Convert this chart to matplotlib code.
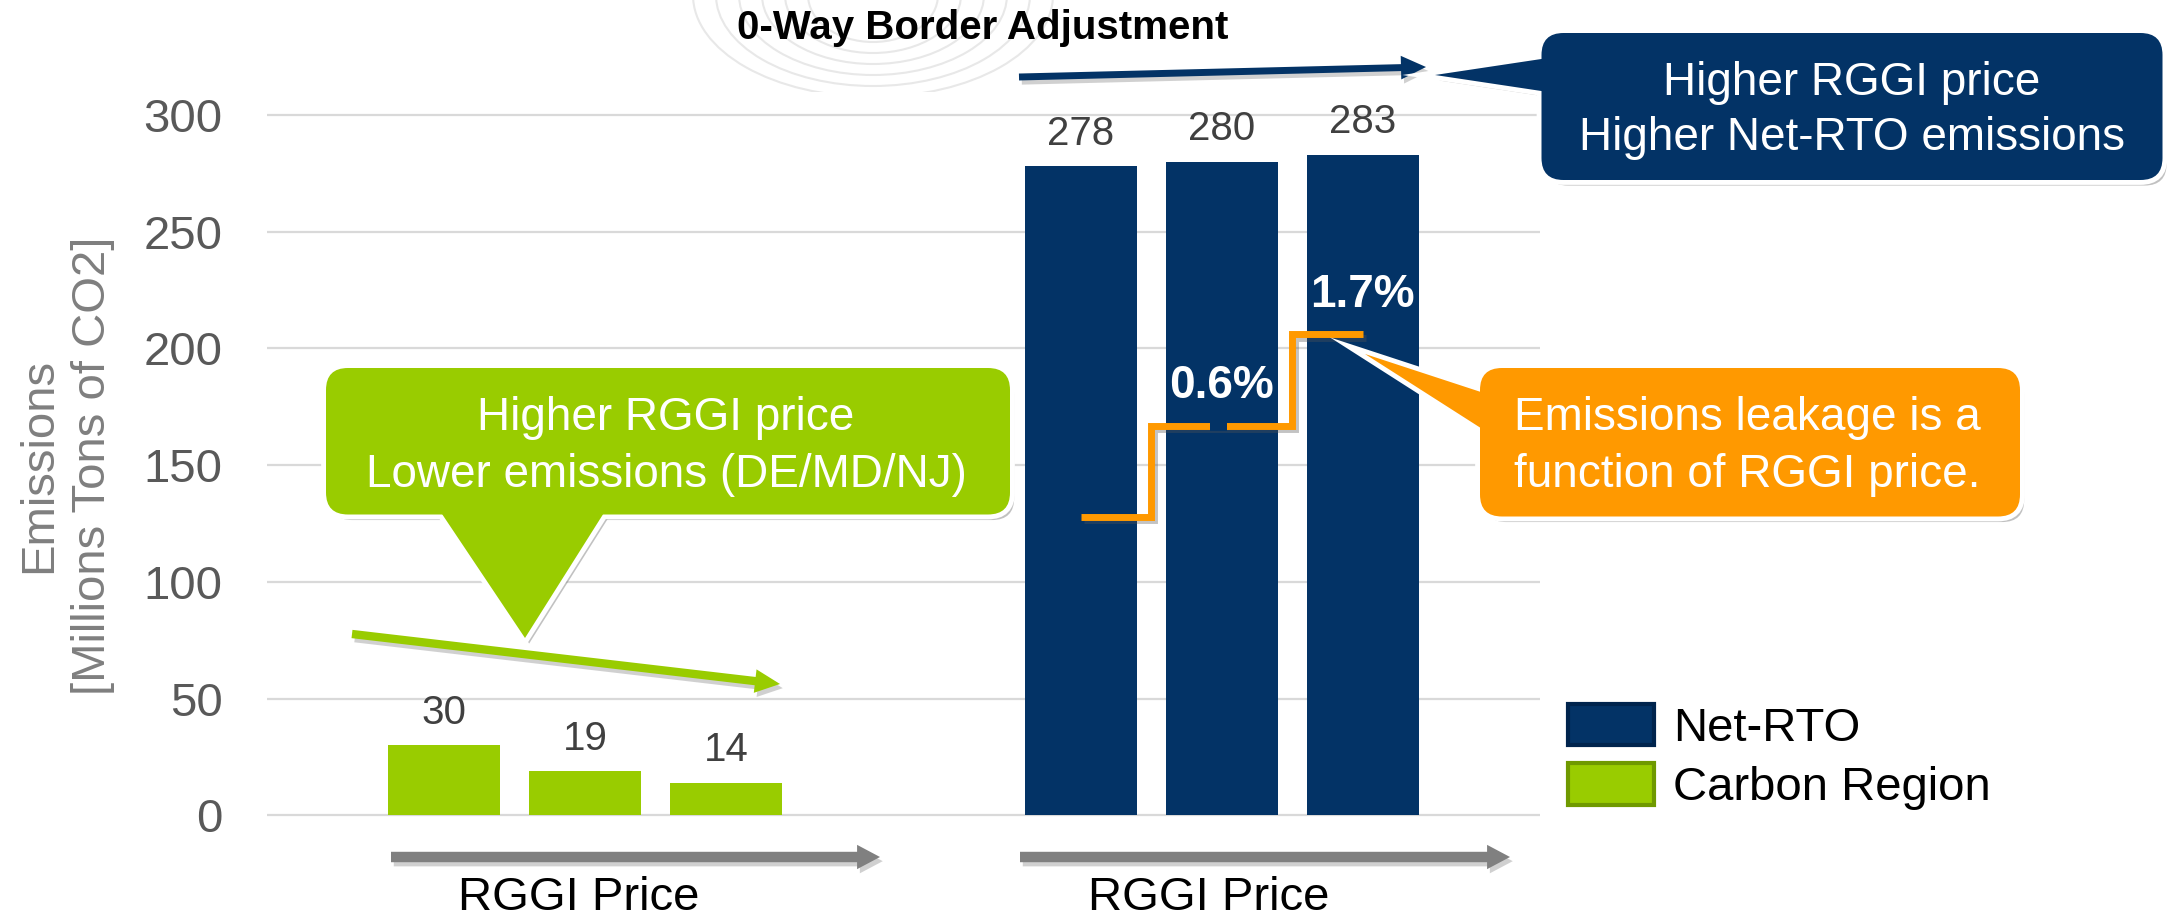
import matplotlib
matplotlib.use('Agg')
import numpy as np
import matplotlib.pyplot as plt
import matplotlib.patheffects as pe
from matplotlib.patches import FancyBboxPatch, Polygon, FancyArrowPatch, Patch, Arc
from matplotlib.transforms import Affine2D, blended_transform_factory

plt.rcParams['font.family'] = ['Liberation Sans', 'DejaVu Sans']

# ---------------- data ----------------
groups = ['Carbon Region', 'Net-RTO']
carbon_region = [30, 19, 14]        # DE/MD/NJ emissions for increasing RGGI price
net_rto = [278, 280, 283]           # Net-RTO emissions for increasing RGGI price
leak_levels = [128, 167, 206]       # illustrative leakage step
leak_labels = ['', '0.6%', '1.7%']
yticks = [0, 50, 100, 150, 200, 250, 300]

NAVY = '#033366'
GREEN = '#99CC00'
ORANGE = '#FF9900'
GRAY = '#808080'

W, H = 2176, 917
fig = plt.figure(figsize=(W / 100, H / 100), dpi=100)
ax = fig.add_axes([0.1227, 0.10305, 0.58502, 0.79711])

# pixel coordinates (y down) for the decorations
pix = Affine2D().scale(1 / W, -1 / H).translate(0, 1) + fig.transFigure

# ------------ bars ------------
offsets = np.array([-1, 0, 1]) * 0.2215
bar_w = 0.176
x_cr = 0 + offsets
x_rto = 1 + offsets
ax.bar(x_cr, carbon_region, bar_w, color=GREEN, zorder=2)
ax.bar(x_rto, net_rto, bar_w, color=NAVY, zorder=2)

for xs, vals in ((x_cr, carbon_region), (x_rto, net_rto)):
    for x, v in zip(xs, vals):
        ax.annotate(f'{v}', (x, v), xytext=(0, 15.5), textcoords='offset points',
                    ha='center', va='baseline', fontsize=29, color='#404040')

ax.set_xlim(-0.5, 1.5)
ax.set_ylim(-3, 310)
ax.set_yticks(yticks)
ax.set_xticks([])
ax.grid(axis='y', color='#d9d9d9', lw=1.6)
ax.set_axisbelow(True)
for s in ax.spines.values():
    s.set_visible(False)
ax.tick_params(axis='y', length=0, pad=32, labelsize=34, labelcolor='#595959')
ax.set_ylabel('Emissions\n[Millions Tons of CO2]', fontsize=34, color='#7f7f7f',
              linespacing=1.28, va='center')
ax.yaxis.set_label_coords(-0.158, 0.488)

# ------------ leakage step line ------------
line_fx = [pe.SimpleLineShadow(offset=(2, -2.5), shadow_color='#555555', alpha=0.35), pe.Normal()]
ax.step(x_rto, leak_levels, where='mid', color=ORANGE, lw=5, zorder=3,
        path_effects=line_fx, solid_joinstyle='miter', solid_capstyle='butt')
# small break in the middle step
ax.plot([x_rto[1] - 0.019, x_rto[1] + 0.009], [leak_levels[1]] * 2, color=NAVY,
        lw=7, zorder=3.5, solid_capstyle='butt')
for x, lvl, lab in zip(x_rto, leak_levels, leak_labels):
    if lab:
        ax.annotate(lab, (x, lvl), xytext=(0, 19.5), textcoords='offset points',
                    ha='center', va='baseline', fontsize=33, fontweight='bold',
                    color='white', zorder=4)

# ------------ faint watermark arcs behind title ------------
for k in range(6):
    fig.add_artist(Arc((873, -5), 360 - 46 * k, 2 * (102 - 11 * k), theta1=0, theta2=180,
                       transform=pix, color='#e8e8e8', lw=1.5, zorder=0))

fig.text(983, 39, '0-Way Border Adjustment', transform=pix, ha='center', va='baseline',
         fontsize=29, fontweight='bold', color='black')


# ------------ arrows ------------
def arrow(p0, p1, color, tail, hw, hl):
    a = FancyArrowPatch(p0, p1, transform=pix, mutation_scale=1, shrinkA=0, shrinkB=0,
                        arrowstyle=f'simple,tail_width={tail},head_width={hw},head_length={hl}',
                        facecolor=color, edgecolor='none', lw=0, zorder=4,
                        path_effects=[pe.SimplePatchShadow(offset=(2, -3), shadow_rgbFace='#666666',
                                                           alpha=0.3), pe.Normal()])
    fig.add_artist(a)


arrow((352, 634), (780, 684), GREEN, 6, 17, 18)
arrow((1019, 77), (1426, 67), NAVY, 5, 17, 18)
arrow((391, 857), (880, 857), GRAY, 7.5, 17.5, 16.5)
arrow((1020, 857), (1510, 857), GRAY, 7.5, 17.5, 16.5)

xblend = blended_transform_factory(ax.transData, pix)
for g in range(len(groups)):
    fig.text(g - 0.01 * (g + 1), 910, 'RGGI Price', transform=xblend, ha='center',
             va='baseline', fontsize=34, color='black')


# ------------ callouts ------------
def callout(box, tip, color, lines, baselines, xc, r=22):
    x0, y0, x1, y1 = box

    def shapes():
        b = FancyBboxPatch((x0, y0), x1 - x0, y1 - y0, transform=pix,
                           boxstyle=f'round,pad=0,rounding_size={r}')
        t = Polygon(tip, closed=True, transform=pix)
        return b, t

    for p in shapes():
        p.set(facecolor='#777777', edgecolor='none', alpha=0.45, zorder=5,
              path_effects=[pe.SimplePatchShadow(offset=(3, -4), shadow_rgbFace='#777777', alpha=0.45)])
        fig.add_artist(p)
    for p in shapes():
        p.set(facecolor='white', edgecolor='white', lw=7, zorder=5.1)
        fig.add_artist(p)
    for p in shapes():
        p.set(facecolor=color, edgecolor='none', zorder=5.2)
        fig.add_artist(p)
    for txt, yb in zip(lines, baselines):
        fig.text(xc, yb, txt, transform=pix, ha='center', va='baseline', fontsize=33,
                 color='white', zorder=5.3)


callout((1541.5, 33, 2162.5, 180), [(1548, 58), (1435, 75), (1548, 92)], NAVY,
        ['Higher RGGI price', 'Higher Net-RTO emissions'], [95, 150], 1852)
callout((326, 368, 1010, 514.5), [(438, 508), (525, 638), (607, 508)], GREEN,
        ['Higher RGGI price', 'Lower emissions (DE/MD/NJ)'], [430, 487], 666)
callout((1480, 368, 2020, 516.5), [(1487, 394), (1365, 354), (1487, 432)], ORANGE,
        ['Emissions leakage is a', 'function of RGGI price.'], [430, 487], 1747)

# ------------ legend ------------
handles = [Patch(facecolor=NAVY, edgecolor='#00244d', linewidth=3),
           Patch(facecolor=GREEN, edgecolor='#6f9900', linewidth=3)]
fig.legend(handles, ['Net-RTO', 'Carbon Region'], loc='upper left',
           bbox_to_anchor=(1568 / W, 1 - 704 / H), frameon=False, fontsize=34,
           handlelength=1.82, handleheight=0.97, handletextpad=0.4, labelspacing=0.26,
           borderpad=0, borderaxespad=0)

fig.savefig('out.png', dpi=100)
